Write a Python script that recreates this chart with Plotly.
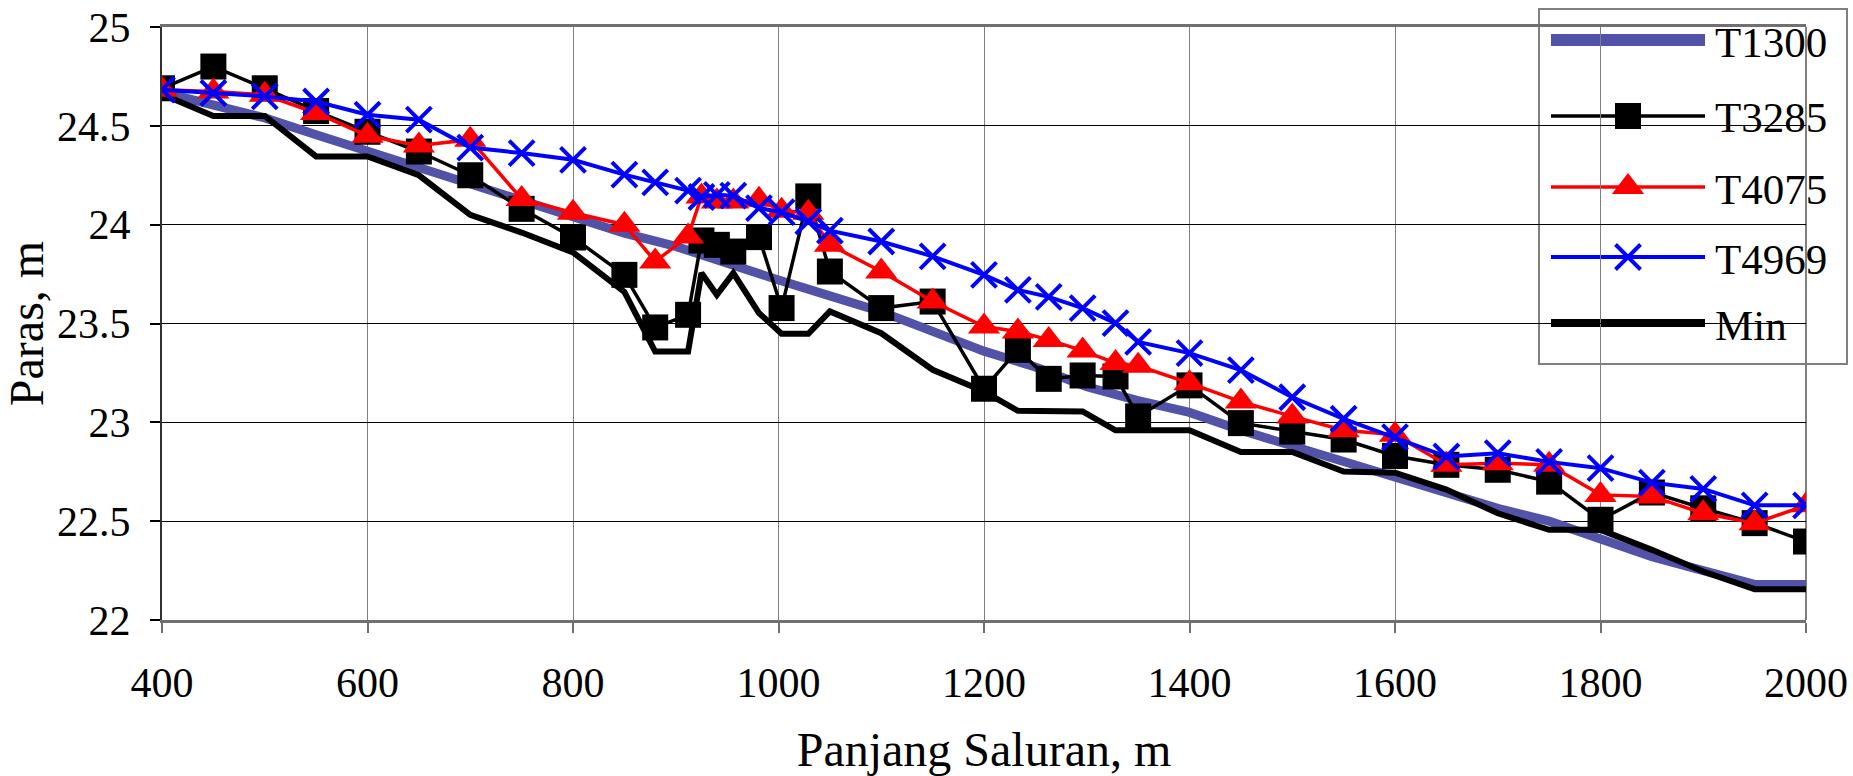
import plotly.graph_objects as go

# ---------------- data ----------------
t1300_x = [400, 450, 500, 550, 600, 650, 700, 750, 800, 850, 900, 950, 1000, 1050, 1100,
           1150, 1200, 1250, 1300, 1350, 1400, 1450, 1500, 1550, 1600, 1650, 1700, 1750,
           1800, 1850, 1900, 1950, 2000]
t1300_y = [24.67, 24.60, 24.54, 24.455, 24.37, 24.295, 24.20, 24.117, 24.033, 23.957, 23.89,
           23.80, 23.72, 23.64, 23.56, 23.46, 23.36, 23.28, 23.18, 23.11, 23.05, 22.96, 22.88,
           22.80, 22.718, 22.645, 22.565, 22.50, 22.415, 22.32, 22.25, 22.18, 22.18]

stations = [400, 450, 500, 550, 600, 650, 700, 750, 800, 850, 880, 912, 925, 940, 956, 981,
            1003, 1029, 1050, 1100, 1150, 1200, 1233, 1263, 1296, 1328, 1350, 1400, 1450,
            1500, 1550, 1600, 1650, 1700, 1750, 1800, 1850, 1900, 1950, 2000]

t3285_y = [24.69, 24.80, 24.69, 24.575, 24.47, 24.37, 24.25, 24.08, 23.935, 23.746, 23.48,
           23.544, 23.92, 23.898, 23.864, 23.937, 23.578, 24.143, 23.763, 23.578, 23.611,
           23.17, 23.367, 23.22, 23.237, 23.232, 23.03, 23.187, 22.996, 22.953, 22.913, 22.83,
           22.785, 22.76, 22.70, 22.507, 22.645, 22.565, 22.49, 22.397]

t4075_y = [24.683, 24.674, 24.657, 24.565, 24.45, 24.40, 24.43, 24.13, 24.06, 24.0, 23.814,
           23.94, 24.143, 24.117, 24.117, 24.126, 24.07, 24.06, 23.898, 23.763, 23.611, 23.485,
           23.46, 23.417, 23.363, 23.30, 23.286, 23.198, 23.105, 23.03, 22.96, 22.937, 22.785,
           22.793, 22.785, 22.633, 22.625, 22.54, 22.49, 22.58]

t4969_y = [24.683, 24.666, 24.649, 24.623, 24.556, 24.531, 24.39, 24.362, 24.328, 24.253,
           24.214, 24.172, 24.14, 24.151, 24.147, 24.084, 24.063, 24.016, 23.97, 23.915, 23.84,
           23.746, 23.67, 23.635, 23.578, 23.502, 23.407, 23.35, 23.264, 23.127, 23.018, 22.925,
           22.827, 22.844, 22.80, 22.768, 22.695, 22.663, 22.58, 22.58]

min_y = [24.66, 24.55, 24.55, 24.345, 24.345, 24.25, 24.05, 23.96, 23.86, 23.66, 23.358,
         23.358, 23.755, 23.645, 23.755, 23.553, 23.448, 23.448, 23.561, 23.451, 23.266,
         23.156, 23.058, 23.055, 23.055, 22.96, 22.96, 22.96, 22.85, 22.85, 22.751, 22.745,
         22.66, 22.54, 22.456, 22.456, 22.355, 22.245, 22.156, 22.156]

x_ticks = [400, 600, 800, 1000, 1200, 1400, 1600, 1800, 2000]
y_ticks = [22, 22.5, 23, 23.5, 24, 24.5, 25]
y_ticktext = ["22", "22.5", "23", "23.5", "24", "24.5", "25"]

series_names = ["T1300", "T3285", "T4075", "T4969", "Min"]

# ---------------- styles ----------------
FONT = "Liberation Serif, Times New Roman, serif"
C1300 = "#5252a8"
W, H = 1853, 776
L, R, T, B = 162, 47, 27, 156
PW, PH = W - L - R, H - T - B

SQ = dict(symbol="square", size=26, color="black")
TRI = dict(symbol="triangle-up", size=28, color="#ff0000")
XM = dict(symbol="x-thin", size=25, color="#0000ff", line=dict(color="#0000ff", width=4))


def pxx(v):
    return (v - L) / PW


def pxy(v):
    return (H - B - v) / PH


fig = go.Figure()

fig.add_trace(go.Scatter(x=t1300_x, y=t1300_y, mode="lines", name=series_names[0],
                         line=dict(color=C1300, width=9), showlegend=False))
fig.add_trace(go.Scatter(x=stations, y=min_y, mode="lines", name=series_names[4],
                         line=dict(color="black", width=6), showlegend=False))
fig.add_trace(go.Scatter(x=stations, y=t3285_y, mode="lines+markers", name=series_names[1],
                         line=dict(color="black", width=3.5), marker=SQ, showlegend=False))
fig.add_trace(go.Scatter(x=stations, y=t4075_y, mode="lines+markers", name=series_names[2],
                         line=dict(color="#ff0000", width=3.5), marker=TRI, showlegend=False))
fig.add_trace(go.Scatter(x=stations, y=t4969_y, mode="lines+markers", name=series_names[3],
                         line=dict(color="#0000ff", width=4), marker=XM, showlegend=False))

# ---------------- manual legend ----------------
shapes = []
annotations = []
shapes.append(dict(type="rect", xref="paper", yref="paper",
                   x0=pxx(1539), x1=pxx(1847), y0=pxy(364), y1=pxy(9),
                   line=dict(color="#808080", width=2), fillcolor="white", layer="between"))
leg_y = [40, 116, 187, 257, 323]
leg_style = [
    (C1300, 12, None),
    ("black", 3.5, SQ),
    ("#ff0000", 3.5, TRI),
    ("#0000ff", 4, XM),
    ("black", 8, None),
]
for name, yy, (col, lw, mk) in zip(series_names, leg_y, leg_style):
    shapes.append(dict(type="line", xref="paper", yref="paper",
                       x0=pxx(1551), x1=pxx(1705), y0=pxy(yy), y1=pxy(yy),
                       line=dict(color=col, width=lw), layer="between"))
    if mk is not None:
        fig.add_trace(go.Scatter(x=[1628], y=[yy], mode="markers", marker=mk,
                                 xaxis="x2", yaxis="y2", showlegend=False,
                                 cliponaxis=False, hoverinfo="skip"))
    annotations.append(dict(text=name, xref="paper", yref="paper",
                            x=pxx(1713), y=pxy(yy + 2), xanchor="left", yanchor="middle",
                            showarrow=False, font=dict(family=FONT, size=43, color="black")))

# right border
shapes.append(dict(type="line", xref="paper", yref="paper", x0=1, x1=1, y0=0, y1=1,
                   line=dict(color="#808080", width=2), layer="below"))

fig.update_layout(
    width=W, height=H,
    margin=dict(l=L, r=R, t=T, b=B, pad=0, autoexpand=False),
    paper_bgcolor="white", plot_bgcolor="white",
    font=dict(family=FONT, color="black"),
    showlegend=False,
    shapes=shapes, annotations=annotations,
    xaxis=dict(range=[400, 2000], tickvals=x_ticks, ticktext=[str(v) for v in x_ticks],
               showgrid=True, gridcolor="#808080", gridwidth=1, automargin=False,
               showline=True, linecolor="#707070", linewidth=3, mirror=True,
               ticks="outside", ticklen=10, tickcolor="#707070", tickwidth=2,
               tickfont=dict(family=FONT, size=42), ticklabelstandoff=14,
               title=dict(text="Panjang Saluran, m", font=dict(family=FONT, size=48),
                          standoff=28),
               zeroline=False),
    yaxis=dict(range=[22, 25], tickvals=y_ticks, ticktext=y_ticktext,
               showgrid=True, gridcolor="black", gridwidth=1, automargin=False,
               showline=True, linecolor="#303030", linewidth=2,
               ticks="outside", ticklen=10, tickcolor="black", tickwidth=2,
               tickfont=dict(family=FONT, size=42), ticklabelstandoff=11,
               title=dict(text="Paras, m", font=dict(family=FONT, size=48), standoff=14),
               zeroline=False),
    xaxis2=dict(overlaying="x", range=[L, W - R], visible=False),
    yaxis2=dict(overlaying="y", range=[H - B, T], visible=False),
)

fig.write_html("out.html")
